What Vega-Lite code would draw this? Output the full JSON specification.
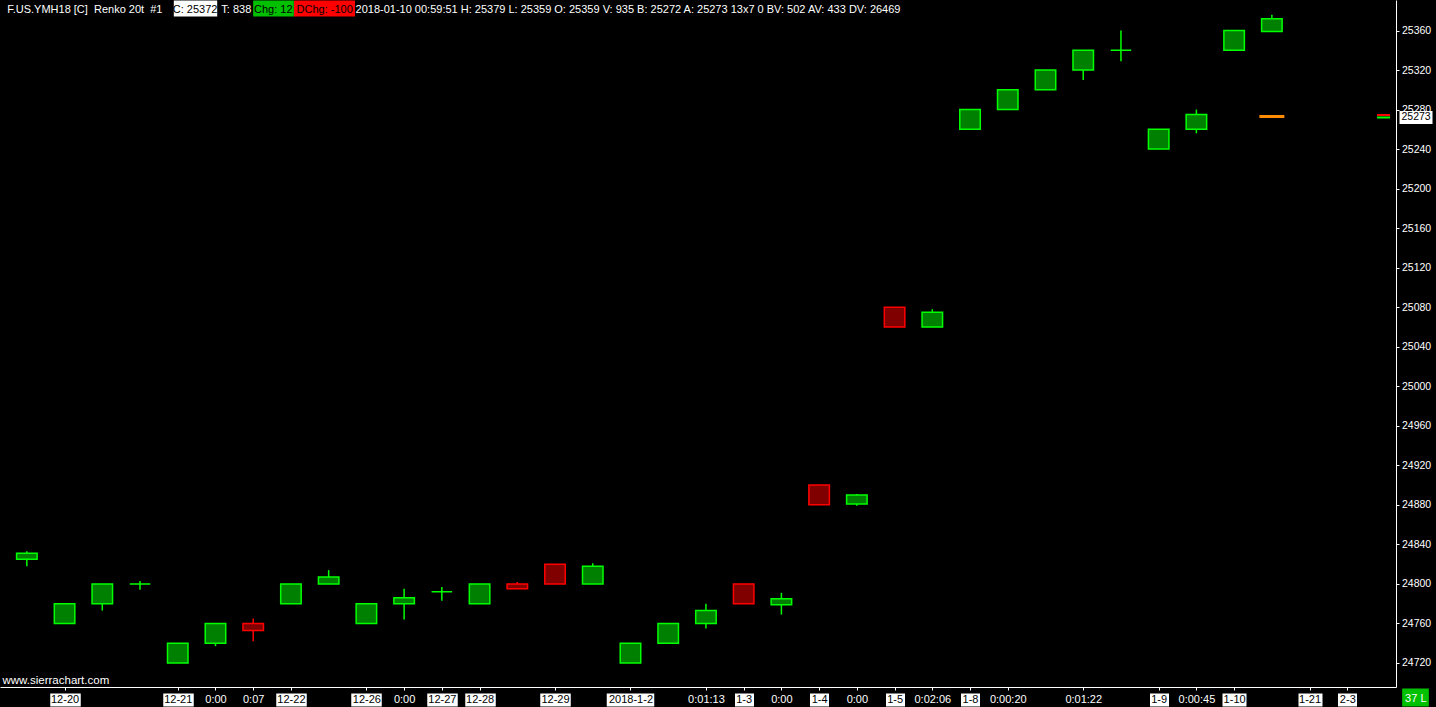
{
  "$schema": "https://vega.github.io/schema/vega-lite/v6.json",
  "width": 1396,
  "height": 687,
  "autosize": {"type": "none"},
  "padding": {"left": 0, "top": 0, "right": 40, "bottom": 20},
  "background": "#000000",
  "config": {
    "view": {"stroke": null},
    "axis": {"grid": false, "labelFont": "Liberation Sans", "titleFont": "Liberation Sans", "labelOverlap": false, "labelFlush": false, "labelBound": false, "labelLimit": 0}
  },
  "datasets": {
    "bricks": [
      {"k": 0, "o": 24825, "c": 24831, "h": 24833, "l": 24818, "dir": "up"},
      {"k": 1, "o": 24760, "c": 24780, "h": 24780, "l": 24760, "dir": "up"},
      {"k": 2, "o": 24780, "c": 24800, "h": 24800, "l": 24773, "dir": "up"},
      {"k": 3, "o": 24800, "c": 24800, "h": 24803, "l": 24794, "dir": "up"},
      {"k": 4, "o": 24720, "c": 24740, "h": 24740, "l": 24720, "dir": "up"},
      {"k": 5, "o": 24740, "c": 24760, "h": 24760, "l": 24737, "dir": "up"},
      {"k": 6, "o": 24760, "c": 24753, "h": 24765, "l": 24742, "dir": "down"},
      {"k": 7, "o": 24780, "c": 24800, "h": 24800, "l": 24780, "dir": "up"},
      {"k": 8, "o": 24800, "c": 24807, "h": 24814, "l": 24800, "dir": "up"},
      {"k": 9, "o": 24760, "c": 24780, "h": 24780, "l": 24760, "dir": "up"},
      {"k": 10, "o": 24780, "c": 24786, "h": 24795, "l": 24764, "dir": "up"},
      {"k": 11, "o": 24792, "c": 24792, "h": 24797, "l": 24783, "dir": "up"},
      {"k": 12, "o": 24780, "c": 24800, "h": 24800, "l": 24780, "dir": "up"},
      {"k": 13, "o": 24800, "c": 24795, "h": 24802, "l": 24795, "dir": "down"},
      {"k": 14, "o": 24820, "c": 24800, "h": 24820, "l": 24800, "dir": "down"},
      {"k": 15, "o": 24800, "c": 24818, "h": 24821, "l": 24800, "dir": "up"},
      {"k": 16, "o": 24720, "c": 24740, "h": 24740, "l": 24720, "dir": "up"},
      {"k": 17, "o": 24740, "c": 24760, "h": 24760, "l": 24740, "dir": "up"},
      {"k": 18, "o": 24760, "c": 24773, "h": 24780, "l": 24755, "dir": "up"},
      {"k": 19, "o": 24800, "c": 24780, "h": 24800, "l": 24780, "dir": "down"},
      {"k": 20, "o": 24779, "c": 24785, "h": 24791, "l": 24769, "dir": "up"},
      {"k": 21, "o": 24900, "c": 24880, "h": 24900, "l": 24880, "dir": "down"},
      {"k": 22, "o": 24881, "c": 24890, "h": 24891, "l": 24879, "dir": "up"},
      {"k": 23, "o": 25080, "c": 25060, "h": 25080, "l": 25060, "dir": "down"},
      {"k": 24, "o": 25060, "c": 25075, "h": 25078, "l": 25060, "dir": "up"},
      {"k": 25, "o": 25260, "c": 25280, "h": 25280, "l": 25260, "dir": "up"},
      {"k": 26, "o": 25280, "c": 25300, "h": 25300, "l": 25280, "dir": "up"},
      {"k": 27, "o": 25300, "c": 25320, "h": 25320, "l": 25300, "dir": "up"},
      {"k": 28, "o": 25320, "c": 25340, "h": 25340, "l": 25310, "dir": "up"},
      {"k": 29, "o": 25340, "c": 25340, "h": 25360, "l": 25329, "dir": "up"},
      {"k": 30, "o": 25240, "c": 25260, "h": 25260, "l": 25240, "dir": "up"},
      {"k": 31, "o": 25260, "c": 25275, "h": 25280, "l": 25256, "dir": "up"},
      {"k": 32, "o": 25340, "c": 25360, "h": 25360, "l": 25340, "dir": "up"},
      {"k": 33, "o": 25359, "c": 25372, "h": 25376, "l": 25359, "dir": "up"}
    ],
    "quote": [{"k": 33, "price": 25273}],
    "edge": [
      {"k": 35.96, "price": 25272, "side": "ask"},
      {"k": 35.96, "price": 25274.5, "side": "bid"}
    ]
  },
  "resolve": {"axis": {"x": "independent", "y": "independent"}},
  "layer": [
    {
      "data": {"name": "bricks"},
      "mark": {"type": "rule", "strokeWidth": 1.5},
      "encoding": {
        "x": {
          "field": "k", "type": "quantitative",
          "scale": {"domain": [-0.5789, 36.1579], "nice": false, "zero": false},
          "axis": {
            "orient": "bottom",
            "values": [1, 4, 5, 6, 7, 9, 10, 11, 12, 14, 16, 18, 19, 20, 21, 22, 23, 24, 25, 26, 28, 30, 31, 32, 34, 35],
            "labelExpr": "(datum.value == 5 || datum.value == 10 || datum.value == 20 || datum.value == 22) ? '0:00' : datum.value == 6 ? '0:07' : datum.value == 18 ? '0:01:13' : datum.value == 24 ? '0:02:06' : datum.value == 26 ? '0:00:20' : datum.value == 28 ? '0:01:22' : datum.value == 31 ? '0:00:45' : ''",
            "domainColor": "#ffffff", "domainWidth": 1,
            "tickColor": "#ffffff", "tickSize": 3, "tickWidth": 1,
            "labelColor": "#ffffff", "labelFontSize": 11, "labelPadding": 3.5, "labelBaseline": "top",
            "title": "www.sierrachart.com", "titleColor": "#ffffff", "titleFontSize": 11.5, "titleFontWeight": "normal",
            "titleAnchor": "start", "titleAlign": "left", "titleBaseline": "alphabetic", "titleX": 2, "titleY": -4
          }
        },
        "y": {
          "field": "l", "type": "quantitative",
          "scale": {"domain": [24695.7, 25390.9], "nice": false, "zero": false},
          "axis": {
            "orient": "right",
            "values": [24720, 24760, 24800, 24840, 24880, 24920, 24960, 25000, 25040, 25080, 25120, 25160, 25200, 25240, 25280, 25320, 25360],
            "format": "d",
            "domainColor": "#ffffff", "domainWidth": 1,
            "tickColor": "#ffffff", "tickSize": 3, "tickWidth": 1,
            "labelColor": "#ffffff", "labelFontSize": 10.5, "labelPadding": 2.5,
            "title": null
          }
        },
        "y2": {"field": "h"},
        "stroke": {"field": "dir", "type": "nominal", "scale": {"domain": ["up", "down"], "range": ["#00ff00", "#ff0000"]}, "legend": null}
      }
    },
    {
      "data": {"name": "bricks"},
      "mark": {"type": "bar", "size": 20.5, "strokeWidth": 1.5},
      "encoding": {
        "x": {
          "field": "k", "type": "quantitative",
          "axis": {
            "orient": "bottom", "offset": 6, "domain": false,
            "values": [1, 4, 7, 9, 11, 12, 14, 16, 19, 21, 23, 25, 30, 32, 34, 35],
            "labelExpr": "datum.value == 1 ? '12-20' : datum.value == 4 ? '12-21' : datum.value == 7 ? '12-22' : datum.value == 9 ? '12-26' : datum.value == 11 ? '12-27' : datum.value == 12 ? '12-28' : datum.value == 14 ? '12-29' : datum.value == 16 ? '2018-1-2' : datum.value == 19 ? '1-3' : datum.value == 21 ? '1-4' : datum.value == 23 ? '1-5' : datum.value == 25 ? '1-8' : datum.value == 30 ? '1-9' : datum.value == 32 ? '1-10' : datum.value == 34 ? '1-21' : '2-3'",
            "tickSize": 13,
            "tickWidth": {
              "condition": [
                {"test": "datum.value == 16", "value": 47.5},
                {"test": "datum.value == 32 || datum.value == 34", "value": 24},
                {"test": "datum.value <= 14", "value": 30.5}
              ],
              "value": 19
            },
            "tickColor": "#ffffff",
            "labelColor": "#000000",
            "labelFontSize": 11, "labelPadding": -12.5, "labelBaseline": "top",
            "title": null
          }
        },
        "y": {"field": "o", "type": "quantitative", "axis": null},
        "y2": {"field": "c"},
        "fill": {"field": "dir", "type": "nominal", "scale": {"domain": ["up", "down"], "range": ["#008000", "#800000"]}, "legend": null},
        "stroke": {"field": "dir", "type": "nominal", "legend": null}
      }
    },
    {
      "data": {"name": "quote"},
      "mark": {"type": "tick", "orient": "horizontal", "size": 25, "thickness": 3, "color": "#ff8c00", "opacity": 1},
      "encoding": {
        "x": {
          "field": "k", "type": "quantitative",
          "axis": {
            "orient": "top", "offset": -16, "domain": false,
            "values": [1.5237, 4.4474, 5.5395, 6.5184, 7.8816, 15.9211],
            "labelExpr": "datum.value < 2 ? 'F.US.YMH18 [C]\u00a0 Renko 20t\u00a0 #1' : datum.value < 5 ? 'C: 25372' : datum.value < 6 ? 'T: 838' : datum.value < 7 ? 'Chg: 12' : datum.value < 8 ? 'DChg: -100' : '2018-01-10 00:59:51 H: 25379 L: 25359 O: 25359 V: 935 B: 25272 A: 25273 13x7 0 BV: 502 AV: 433 DV: 26469'",
            "tickSize": 16,
            "tickWidth": {
              "condition": [
                {"test": "datum.value > 4 && datum.value < 5", "value": 43.4},
                {"test": "datum.value > 6 && datum.value < 7", "value": 40.7},
                {"test": "datum.value > 7 && datum.value < 8", "value": 61}
              ],
              "value": 0
            },
            "tickColor": {
              "condition": [
                {"test": "datum.value > 4 && datum.value < 5", "value": "#ffffff"},
                {"test": "datum.value > 6 && datum.value < 7", "value": "#00c000"},
                {"test": "datum.value > 7 && datum.value < 8", "value": "#ff0000"}
              ],
              "value": "transparent"
            },
            "labelColor": {
              "condition": {"test": "(datum.value > 4 && datum.value < 5) || (datum.value > 6 && datum.value < 8)", "value": "#000000"},
              "value": "#ffffff"
            },
            "labelFontSize": 11, "labelPadding": -12.3, "labelBaseline": "alphabetic",
            "title": null
          }
        },
        "y": {
          "field": "price", "type": "quantitative",
          "axis": {
            "orient": "right", "offset": 3, "domain": false,
            "values": [25273], "format": "d",
            "tickSize": 33, "tickWidth": 13, "tickColor": "#ffffff",
            "labelColor": "#000000", "labelFontSize": 10.5, "labelPadding": -31, "labelAlign": "left",
            "title": null
          }
        }
      }
    },
    {
      "data": {"name": "edge"},
      "mark": {"type": "tick", "orient": "horizontal", "size": 13, "thickness": 2, "opacity": 1},
      "encoding": {
        "x": {
          "field": "k", "type": "quantitative",
          "axis": {
            "orient": "bottom", "offset": 1, "domain": false,
            "values": [35], "tickOffset": 68,
            "labelExpr": "'37 L'",
            "tickSize": 18, "tickWidth": 26.7, "tickColor": "#00c000",
            "labelColor": "#ffffff", "labelFontSize": 11, "labelPadding": -13.8, "labelBaseline": "top",
            "title": null
          }
        },
        "y": {"field": "price", "type": "quantitative", "axis": null},
        "color": {"condition": {"test": "datum.side == 'bid'", "value": "#ff0000"}, "value": "#00ff00"}
      }
    }
  ]
}
